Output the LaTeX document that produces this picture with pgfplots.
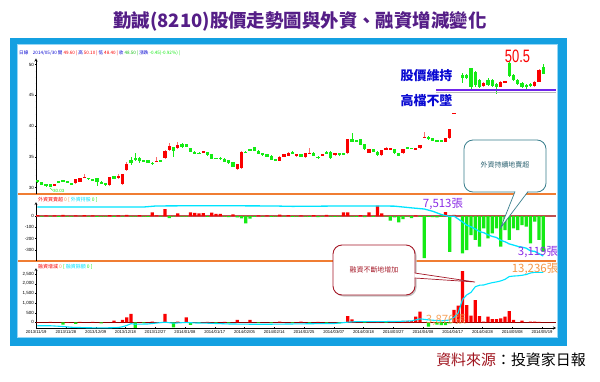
\documentclass[border=0pt]{standalone}
\usepackage{pgfplots}
\pgfplotsset{compat=1.18}
\usepackage{pgfplotstable}
\usepackage{fontspec}
\setmainfont{Liberation Sans}
\newfontfamily\cjk{Noto Sans CJK TC}
\definecolor{frameblue}{RGB}{20,160,225}
\definecolor{framelight}{RGB}{150,215,245}
\definecolor{orangeline}{RGB}{240,125,50}
\definecolor{candred}{RGB}{250,0,0}
\definecolor{wickred}{RGB}{250,110,110}
\definecolor{candgreen}{RGB}{20,235,20}
\definecolor{cyanline}{RGB}{0,228,255}
\definecolor{titlepurple}{RGB}{85,30,135}
\definecolor{annblue}{RGB}{10,10,210}
\definecolor{violet2}{RGB}{140,45,230}
\definecolor{orangetxt}{RGB}{245,150,70}
\definecolor{tealc}{RGB}{55,125,140}
\definecolor{tealtxt}{RGB}{40,95,110}
\definecolor{darkred}{RGB}{165,25,40}
\definecolor{srcred}{RGB}{160,20,30}
\definecolor{zeroline}{RGB}{190,80,80}

\pgfplotstableread{
x o h l c
4 30.35 30.6 30.3 30.57
9 30.68 31.4 30.6 31.38
10 30.89 31.55 30.85 31.49
11 31.6 32.2 31.5 31.76
17 30.35 31.7 30.3 31.65
19 31.49 32.14 31.4 31.87
20 30.51 32.2 30.4 32.14
21 32.85 34.2 32.7 33.82
28 34.2 34.9 34.1 34.31
30 34.74 36.1 34.6 35.99
31 36.1 37.18 36.0 36.75
33 36.37 37.45 36.3 36.91
39 35.66 35.95 35.6 35.88
47 32.95 33.8 32.9 33.77
48 33.12 35.9 33.0 35.83
57 34.36 35.05 34.3 35.01
58 35.01 35.45 34.95 35.39
59 35.18 35.83 35.1 35.56
61 35.12 35.5 35.0 35.45
63 34.9 35.6 34.85 35.56
64 35.6 36.37 35.5 35.66
67 35.12 35.5 35.05 35.45
70 35.28 35.6 35.2 35.56
73 35.56 37.9 35.5 37.83
78 35.66 36.25 35.6 36.21
81 35.28 36.15 35.2 36.1
82 36.31 36.64 36.1 36.37
83 36.26 36.45 36.2 36.37
86 35.56 36.3 35.5 36.26
89 36.3 36.5 36.2 36.37
90 36.37 36.95 36.3 36.91
91 38.2 39.08 38.1 38.27
96 37.4 38.05 37.35 37.99
97 37.99 39.5 37.9 39.46
98 42.0 42.11 42.0 42.11
105 46.5 47.2 46.4 47.05
109 46.4 47.3 46.3 47.2
110 47.2 47.4 47.1 47.25
117 46.5 47.4 46.3 47.2
118 47.2 49.3 47.1 49.2
}\redcandles

\pgfplotstableread{
x o h l c
0 31.22 31.3 30.8 30.89
1 30.89 30.95 30.35 30.41
2 30.5 30.6 30.03 30.45
3 30.57 30.6 30.03 30.14
5 30.95 31.0 30.85 30.9
6 31.22 31.3 30.85 30.89
7 31.0 31.05 30.65 30.68
8 30.68 30.72 30.45 30.51
12 31.5 31.6 31.3 31.45
13 31.3 31.35 31.2 31.25
14 31.49 31.6 30.24 30.95
15 30.95 31.0 30.5 30.57
16 30.68 30.75 30.3 30.35
18 31.87 31.95 31.4 31.44
22 34.47 34.9 33.66 34.04
23 34.74 35.56 34.3 34.47
24 34.74 34.9 34.0 34.36
25 34.45 34.5 34.2 34.3
26 34.42 34.5 34.0 34.04
27 34.0 34.1 33.66 33.95
29 34.47 34.55 34.25 34.31
32 36.53 36.6 34.9 35.99
34 37.02 37.18 36.5 36.64
35 37.02 37.1 36.55 36.64
36 36.37 36.45 35.75 35.83
37 35.83 35.9 35.4 35.45
38 35.65 35.7 35.5 35.6
40 35.72 35.8 35.2 35.28
41 35.39 35.45 34.6 34.69
42 34.8 34.85 34.6 34.69
43 34.85 34.95 34.55 34.63
44 34.69 34.75 34.1 34.15
45 34.47 34.55 33.9 33.98
46 34.15 34.2 33.3 33.39
49 35.83 35.95 35.6 35.66
50 36.21 36.3 35.95 35.99
51 36.53 36.6 35.95 35.99
52 35.99 36.05 35.4 35.45
53 35.56 35.6 35.2 35.28
54 35.39 35.45 34.95 35.01
55 35.18 35.25 34.4 34.47
56 34.58 34.65 34.25 34.31
60 35.83 35.9 35.4 35.45
62 35.45 35.5 34.95 35.01
65 35.66 35.7 35.05 35.12
66 34.95 35.1 34.58 34.9
68 35.83 35.9 35.4 35.45
69 35.83 35.9 34.7 34.74
71 35.56 35.6 35.2 35.28
72 35.56 35.6 35.4 35.45
74 37.83 38.81 37.4 37.45
75 37.72 37.8 37.4 37.45
76 37.83 37.9 36.85 36.91
77 37.07 37.1 36.15 36.21
79 36.21 36.3 35.8 35.83
80 35.83 35.9 35.2 35.28
84 36.21 36.3 35.5 35.56
85 35.56 35.6 35.05 35.12
87 36.53 36.6 36.25 36.31
88 36.45 36.5 36.3 36.4
92 38.27 38.35 37.8 37.83
93 37.99 38.05 37.5 37.56
94 37.72 37.8 37.35 37.4
95 37.72 37.8 37.35 37.4
100 48.3 48.6 47.0 47.8
101 48.3 48.4 47.6 47.75
102 49.4 49.5 46.0 46.4
103 48.8 49.0 46.4 46.7
104 47.5 47.6 46.2 46.4
106 47.5 47.8 46.5 46.7
107 47.5 47.6 46.4 46.5
108 46.9 47.0 45.3 46.4
111 50.2 50.5 48.0 48.2
112 48.3 48.4 47.3 47.5
113 47.5 47.7 46.7 46.9
114 47.0 47.1 46.2 46.4
115 46.7 46.8 46.1 46.3
116 46.9 47.0 46.4 46.6
119 49.6 50.1 48.4 48.5
}\greencandles

\pgfplotstableread{
x v
0 7700
25 7700
28 7800
40 7820
55 7800
60 7760
70 7790
80 7800
84 7780
86 7700
88 7620
91 7513
93 7300
95 7000
97 6800
98 6850
100 6300
101 6000
102 5850
103 5650
104 5400
105 5300
106 5100
107 4950
108 4850
109 4580
110 4450
111 4250
112 4140
113 4020
114 3950
115 3850
116 3600
117 3550
118 3340
119 3119
}\foreignhold

\pgfplotstableread{
x v
0 2750
3 2750
6 2600
8 2450
12 2350
16 2330
19 2400
20 2550
21 2800
22 3150
23 3050
26 3100
30 3450
32 3250
35 3400
37 3300
40 3250
45 3100
50 3050
55 3050
60 3100
65 3150
70 3200
73 3450
75 3550
80 3550
85 3600
88 3700
90 4100
92 3900
95 3700
97 3876
98 4400
99 5300
100 7900
101 8800
102 9300
103 10400
104 10700
105 10750
106 11000
107 11200
108 11350
109 11550
110 11850
111 12400
112 12500
113 12550
114 12650
115 12800
116 13100
117 13236
118 13236
119 13236
}\marginbal

\pgfplotsset{
  panel/.style={scale only axis, xmin=-0.35, xmax=122, width=520bp,
    anchor=south west, axis line style={-, black, line width=0.4pt},
    tick align=outside, major tick length=2bp, minor tick length=1bp,
    tick style={black, line width=0.3pt},
    yticklabel style={font=\fontsize{4.5}{5}\selectfont, inner sep=1bp},
    /pgf/number format/assume math mode=true,
    /pgf/number format/1000 sep={,}},
  overlay/.style={scale only axis, xmin=-0.35, xmax=122, width=520bp,
    anchor=south west, hide axis},
}

\begin{document}
\begin{tikzpicture}[x=1bp,y=1bp]
\useasboundingbox (0,0) rectangle (600,381);
\fill[white] (0,0) rectangle (600,381);
\node[font=\cjk\bfseries\fontsize{18.5}{20}\selectfont, text=titlepurple] at (300,360) {勤誠(8210)股價走勢圖與外資、融資增減變化};
\fill[frameblue] (10,35) rectangle (567,343);
\fill[white] (17,43) rectangle (558,337);
\draw[framelight, line width=0.6] (17.3,43.3) rectangle (557.7,336.7);

% header line
\node[anchor=west, font=\cjk\fontsize{4.6}{5}\selectfont, inner sep=0] at (19,328) {\textcolor{annblue}{日線\quad 2014/05/30 開} \textcolor{candred}{49.60} \textcolor{candred}{|} \textcolor{annblue}{高} \textcolor{candred}{50.10} \textcolor{candred}{|} \textcolor{annblue}{低} \textcolor{candred}{48.40} \textcolor{candred}{|} \textcolor{annblue}{收} \textcolor{candgreen!80!black}{48.50} \textcolor{candgreen!80!black}{|} \textcolor{annblue}{漲跌} \textcolor{candgreen}{-0.45(-0.92\%)} \textcolor{candgreen}{|}};

% separators
\draw[orangeline, line width=1.4] (18,187) -- (556,187);
\draw[orangeline, line width=1.4] (18,120) -- (556,120);

% price panel
\begin{axis}[panel, at={(36bp,187bp)}, height=135.5bp, ymin=28.94, ymax=51.0,
  axis x line=none, axis y line=left, ytick={30,35,40,45,50}, minor y tick num=4]
\addplot[draw=none, mark=none, color=wickred, error bars/.cd, y dir=both, y explicit, error mark=none, error bar style={line width=0.6bp, draw=wickred, solid}]
  table[x=x, y expr={(\thisrow{h}+\thisrow{l})/2}, y error expr={(\thisrow{h}-\thisrow{l})/2}] \redcandles;
\addplot[draw=none, mark=none, color=candgreen, error bars/.cd, y dir=both, y explicit, error mark=none, error bar style={line width=0.6bp, draw=candgreen, solid}]
  table[x=x, y expr={(\thisrow{h}+\thisrow{l})/2}, y error expr={(\thisrow{h}-\thisrow{l})/2}] \greencandles;
\addplot[draw=none, mark=none, color=candred, error bars/.cd, y dir=both, y explicit, error mark=none, error bar style={line width=3.2bp, draw=candred, solid}]
  table[x=x, y expr={(\thisrow{o}+\thisrow{c})/2}, y error expr={max(abs(\thisrow{c}-\thisrow{o})/2,0.06)}] \redcandles;
\addplot[draw=none, mark=none, color=candgreen, error bars/.cd, y dir=both, y explicit, error mark=none, error bar style={line width=3.2bp, draw=candgreen, solid}]
  table[x=x, y expr={(\thisrow{o}+\thisrow{c})/2}, y error expr={max(abs(\thisrow{c}-\thisrow{o})/2,0.06)}] \greencandles;
\end{axis}

% foreign panel
\begin{axis}[panel, at={(36bp,120bp)}, height=59bp, ymin=-398, ymax=124,
  axis x line=none, axis y line=left, ytick={-300,-200,-100,0}]
\draw[zeroline, line width=1.1] (axis cs:-0.35,0) -- (axis cs:122,0);
\addplot[ybar, bar width=3.2bp, bar shift=0pt, fill=candred, draw=none] coordinates {
(0,8) (2,5) (4,6) (6,10) (9,6) (11,8) (13,5) (17,8) (19,6) (21,10) (24,8) (27,32) (28,6) (30,62) (33,24) (36,32) (37,27) (38,24) (39,26) (41,30) (42,18) (43,18) (46,15) (52,6) (54,5) (57,12) (59,8) (62,6) (65,8) (68,10) (72,32) (73,32) (76,8) (78,32) (80,91) (81,24) (89,6) (96,35) (98,10)};
\addplot[ybar, bar width=3.2bp, bar shift=0pt, fill=candgreen, draw=none] coordinates {
(1,-6) (3,-5) (5,-8) (7,-6) (8,-5) (10,-4) (12,-6) (14,-8) (15,-6) (16,-5) (18,-8) (20,-6) (22,-5) (23,-6) (25,-5) (26,-8) (29,-5) (31,-18) (32,-6) (34,-5) (35,-6) (40,-8) (44,-6) (45,-10) (47,-12) (48,-20) (49,-65) (50,-24) (51,-8) (53,-6) (55,-8) (56,-6) (58,-6) (60,-8) (61,-5) (63,-6) (64,-8) (66,-10) (67,-5) (69,-6) (70,-8) (71,-5) (74,-5) (75,-8) (77,-10) (79,-8) (82,-6) (83,-41) (84,-12) (85,-56) (86,-27) (87,-6) (88,-18) (90,-8) (91,-372) (92,-8) (93,-10) (94,-12) (95,-8) (97,-318) (100,-330) (101,-301) (102,-168) (103,-212) (104,-271) (105,-109) (106,-197) (107,-153) (108,-109) (109,-271) (110,-124) (111,-212) (112,-109) (113,-124) (114,-80) (115,-94) (116,-242) (117,-50) (118,-212) (119,-315)};
\end{axis}
\begin{axis}[overlay, at={(36bp,120bp)}, height=59bp, ymin=2652, ymax=8168]
\addplot[cyanline, line width=1.3bp] table[x=x, y=v] \foreignhold;
\end{axis}

% margin panel
\begin{axis}[panel, at={(36bp,53bp)}, height=60bp, ymin=-295, ymax=2813,
  axis x line=bottom, axis y line=left, ytick={0,500,1000,1500,2000,2500},
  xtick={-0.3,6.7,13.7,20.7,27.7,34.7,41.7,48.7,55.7,62.7,69.7,76.7,83.7,90.7,97.7,104.7,111.7,118.7},
  xticklabels={2013/11/19,2013/11/28,2013/12/09,2013/12/18,2013/12/27,2014/01/08,2014/01/17,2014/02/05,2014/02/14,2014/02/25,2014/03/07,2014/03/18,2014/03/27,2014/04/08,2014/04/17,2014/04/28,2014/05/08,2014/05/19},
  xticklabel style={font=\fontsize{4.2}{5}\selectfont, inner sep=1bp}]
\draw[red!55!black, line width=0.9] (axis cs:-0.35,0) -- (axis cs:122,0);
\addplot[ybar, bar width=3.2bp, bar shift=0pt, fill=candred, draw=none] coordinates {
(3,20) (7,15) (10,25) (13,20) (18,86) (20,120) (21,259) (22,432) (27,30) (30,432) (33,40) (35,259) (40,20) (44,25) (47,120) (50,120) (57,40) (62,30) (66,25) (73,320) (74,150) (80,30) (86,80) (87,80) (88,60) (89,290) (90,550) (98,640) (99,860) (100,2655) (101,895) (102,340) (103,1155) (104,325) (105,30) (106,290) (107,170) (108,170) (109,205) (110,290) (111,585) (112,120) (114,85) (116,30) (117,30) (118,25)};
\addplot[ybar, bar width=3.2bp, bar shift=0pt, fill=candgreen, draw=none] coordinates {
(6,-120) (9,-86) (15,-50) (23,-293) (25,-40) (32,-259) (36,-138) (38,-40) (42,-30) (45,-40) (52,-30) (55,-40) (60,-30) (64,-40) (68,-40) (71,-50) (77,-30) (82,-25) (92,-225) (94,-120) (95,-150) (96,-140) (97,-60)};
\end{axis}
\begin{axis}[overlay, at={(36bp,53bp)}, height=60bp, ymin=2306, ymax=14080]
\addplot[cyanline, line width=1.1bp] table[x=x, y=v] \marginbal;
\end{axis}

% panel legends
\node[anchor=west, font=\cjk\fontsize{5}{5}\selectfont, inner sep=0] at (38,181) {\textcolor{candred}{外資買賣超} \textcolor{orangetxt}{0} \textcolor{orangetxt}{[} \textcolor{cyanline}{外資持股} \textcolor{candgreen}{0 ]}};
\node[anchor=west, font=\cjk\fontsize{5}{5}\selectfont, inner sep=0] at (38,114.5) {\textcolor{candred}{融資增減} \textcolor{orangetxt}{0} \textcolor{candgreen}{[} \textcolor{cyanline}{融資餘額} \textcolor{candgreen}{0 ]}};

% low label
\draw[candgreen, line width=0.4] (50,193) -- (53,190.5);
\node[anchor=west, font=\fontsize{4.5}{5}\selectfont, text=candgreen, inner sep=0] at (53,190.5) {30.03};

% support line
\draw[gray!55, line width=2] (436,288.5) -- (556,288.5);
\draw[violet2!80!blue, line width=1.6] (436,291) -- (556,291);

% annotations
\node[font=\cjk\bfseries\fontsize{13}{14}\selectfont, text=annblue] at (426.5,305.5) {股價維持};
\node[font=\cjk\bfseries\fontsize{13}{14}\selectfont, text=annblue] at (426.5,280.5) {高檔不墜};
\node[font=\fontsize{18}{20}\selectfont, text=candred, xscale=0.72] at (517.5,325) {50.5};
\node[font=\cjk\fontsize{11.5}{12}\selectfont, text=violet2] at (443,177) {7,513張};
\node[font=\cjk\fontsize{11.5}{12}\selectfont, text=violet2] at (538,128.5) {3,119張};
\node[font=\cjk\fontsize{11.5}{12}\selectfont, text=orangetxt] at (535,112) {13,236張};
\node[font=\cjk\fontsize{11.5}{12}\selectfont, text=orangetxt, opacity=0.85] at (446,61) {3,876張};

% callout foreign
\draw[tealc, line width=0.8, fill=white, rounded corners=9bp] (464,189) rectangle (546,241);
\fill[white] (515,189.8) -- (500.5,153) -- (528,189.8) -- cycle;
\draw[tealc, line width=0.7] (515,189.4) -- (500.5,153) -- (528,189.4);
\node[font=\cjk\fontsize{7}{8}\selectfont, text=tealtxt] at (505,216) {外資持續地賣超};

% callout margin
\fill[gray!45, rounded corners=9bp] (334.5,84.5) rectangle (416.5,134.5);
\draw[darkred, line width=0.9, fill=white, rounded corners=9bp] (333,86) rectangle (415,136);
\fill[white] (414.4,108) -- (475,99) -- (414.4,103) -- cycle;
\draw[darkred, line width=0.7] (414.6,108) -- (475,99) -- (414.6,103);
\node[font=\cjk\fontsize{7}{8}\selectfont, text=darkred] at (374,111) {融資不斷地增加};

% source
\node[font=\cjk\fontsize{15}{16}\selectfont] at (511,21) {\textcolor{srcred}{資料來源}：投資家日報};
\end{tikzpicture}
\end{document}
